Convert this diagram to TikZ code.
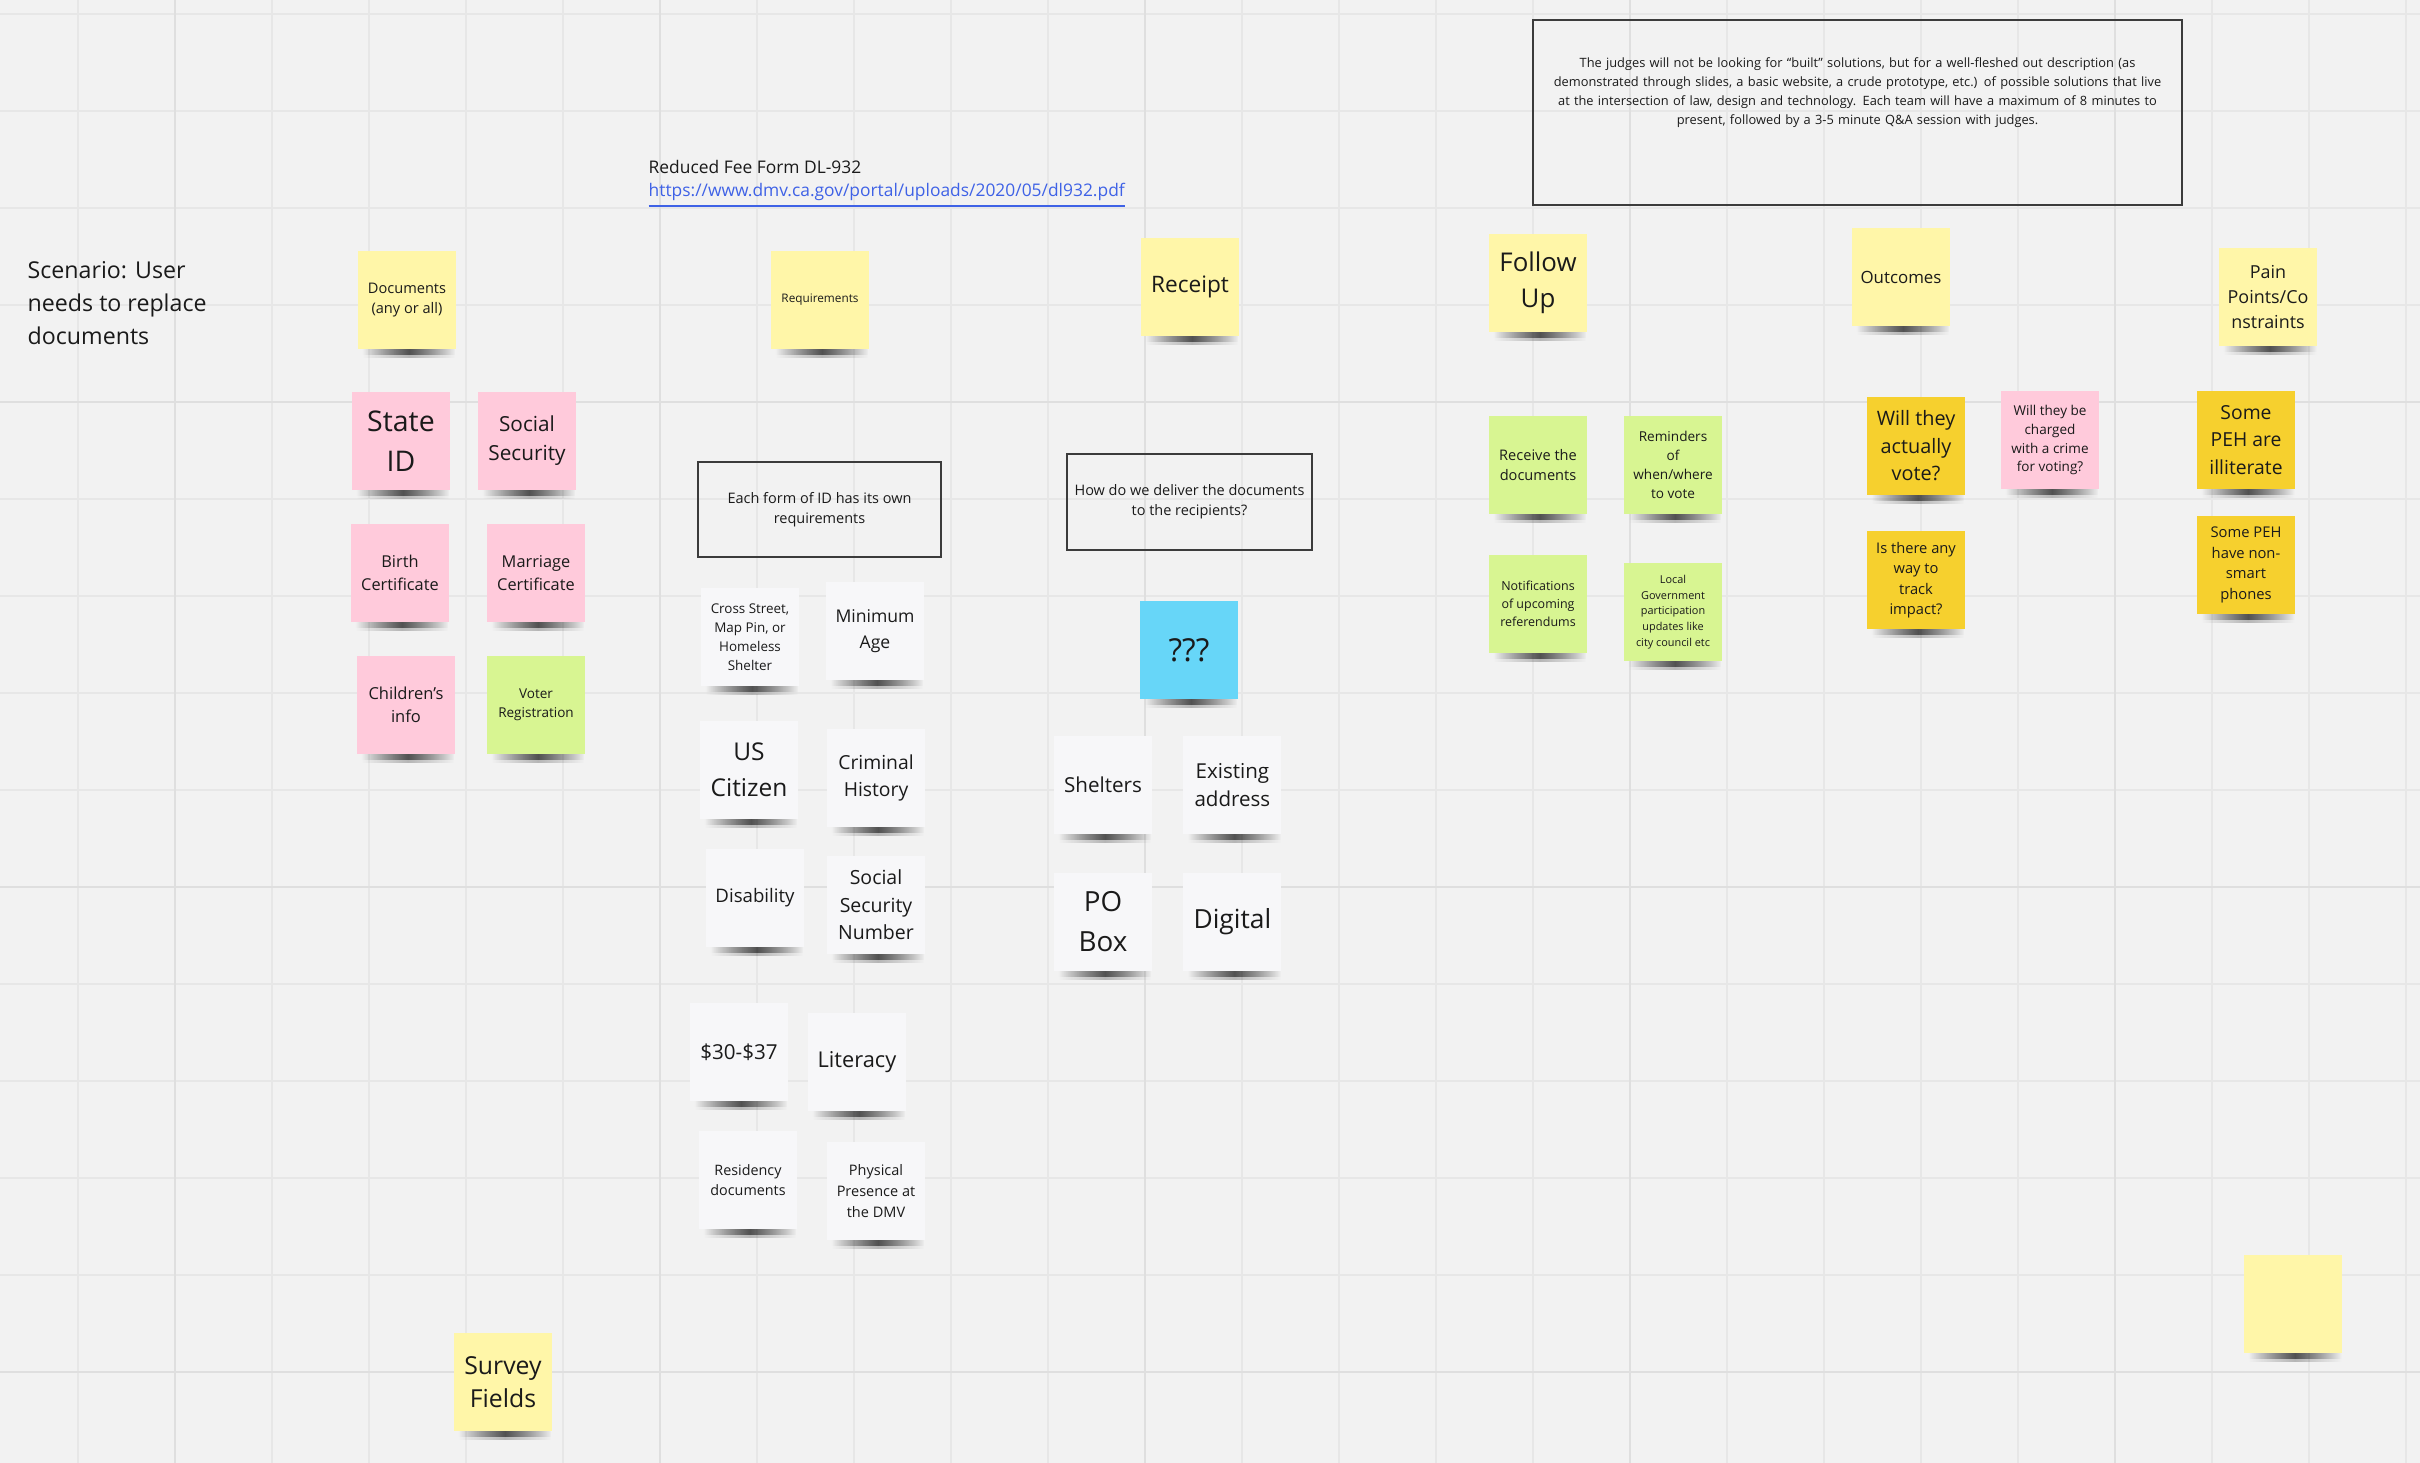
\documentclass[tikz,border=0pt]{standalone}
\usepackage{fontspec}
\setmainfont{Open Sans}
\usepackage{tikz}
\usetikzlibrary{positioning, shadows, fadings}
\definecolor{board}{HTML}{F2F2F2}
\definecolor{gridminor}{HTML}{E7E7E7}
\definecolor{gridmajor}{HTML}{DFDFDF}
\definecolor{ink}{HTML}{1A1A1A}
\definecolor{linkblue}{HTML}{3F62E6}
\definecolor{paleyellow}{HTML}{FFF6A8}
\definecolor{notepink}{HTML}{FFCADB}
\definecolor{notegreen}{HTML}{D8F592}
\definecolor{noteblue}{HTML}{67D6F8}
\definecolor{notewhite}{HTML}{F7F7F9}
\definecolor{notegold}{HTML}{F6D02E}
\newcommand{\fsz}[2]{\fontsize{#1}{#2}\selectfont}
\tikzfading[name=shadowfade, left color=transparent!100, right color=transparent!100, middle color=transparent!0]
\tikzset{
  note/.style={rectangle, minimum width=9.8mm, minimum height=9.8mm, inner sep=0.4mm, align=center, text=ink,
    general shadow={shadow xshift=0.2mm, shadow yshift=-1.25mm, shadow scale=0.95, opacity=0.25, fill=black, path fading=shadowfade},
    general shadow={shadow xshift=0.2mm, shadow yshift=-0.85mm, shadow scale=0.95, opacity=0.55, fill=black, path fading=shadowfade}},
  yellownote/.style={note, fill=paleyellow},
  pinknote/.style={note, fill=notepink},
  greennote/.style={note, fill=notegreen},
  bluenote/.style={note, fill=noteblue},
  whitenote/.style={note, fill=notewhite},
  goldnote/.style={note, fill=notegold},
  framebox/.style={rectangle, draw=ink!85, line width=0.15mm, align=center, text=ink, inner sep=0.5mm},
  plaintext/.style={align=left, text=ink, inner sep=0pt, anchor=west},
  gridline/.style={draw=gridminor, line width=0.15mm},
  majorline/.style={draw=gridmajor, line width=0.2mm},
}

\begin{document}
\begin{tikzpicture}[x=0.1mm, y=-0.1mm]
  % board
  \fill[board] (0,0) rectangle (2420,1463);
  \useasboundingbox (0,0) rectangle (2420,1463);
  \foreach \gx in {78,175,...,2410} \draw[gridline] (\gx,0) -- (\gx,1463);
  \foreach \gy in {14,111,...,1463} \draw[gridline] (0,\gy) -- (2420,\gy);
  \foreach \gx in {175,660,...,2410} \draw[majorline] (\gx,0) -- (\gx,1463);
  \foreach \gy in {402,887,1372} \draw[majorline] (0,\gy) -- (2420,\gy);

  % documents
  \node[plaintext, font=\fsz{6.6}{9.3}] (scenario) at (27,303) {Scenario: User\\needs to replace\\documents};
  \node[yellownote, font=\fsz{4.15}{5.85}] (docs) at (407,300) {Documents\\(any or all)};
  \node[pinknote, font=\fsz{8.1}{11.25}] (stateid) at (401,441) {State\\ID};
  \node[pinknote, font=\fsz{5.9}{8.3}] (socsec) at (527,441) {Social\\Security};
  \node[pinknote, font=\fsz{4.65}{6.5}] (birth) at (400,573) {Birth\\Certificate};
  \node[pinknote, font=\fsz{4.65}{6.5}] (marriage) at (536,573) {Marriage\\Certificate};
  \node[pinknote, font=\fsz{4.7}{6.5}] (children) at (406,705) {Children's\\info};
  \node[greennote, font=\fsz{3.85}{5.4}] (voter) at (536,705) {Voter\\Registration};
  \node[yellownote, font=\fsz{7.05}{9.2}] (survey) at (503,1382) {Survey\\Fields};

  % requirements
  \node[plaintext, font=\fsz{4.95}{6.8}] (dlform) at (648,184) {Reduced Fee Form DL-932\\\textcolor{linkblue}{\underline{https://www.dmv.ca.gov/portal/uploads/2020/05/dl932.pdf}}};
  \node[yellownote, font=\fsz{3.35}{4.7}] (reqs) at (820,300) {Requirements};
  \node[framebox, minimum width=24.3mm, minimum height=9.5mm, font=\fsz{4.12}{5.8}] (eachform) at (819.5,509.5) {Each form of ID has its own\\requirements};
  \node[whitenote, font=\fsz{3.82}{5.4}] (cross) at (750,637) {Cross Street,\\Map Pin, or\\Homeless\\Shelter};
  \node[whitenote, font=\fsz{5}{7.4}] (minage) at (875,631) {Minimum\\Age};
  \node[whitenote, font=\fsz{6.97}{10.2}] (uscitizen) at (749,770) {US\\Citizen};
  \node[whitenote, font=\fsz{5.5}{7.9}] (criminal) at (876,778) {Criminal\\History};
  \node[whitenote, font=\fsz{5.3}{7.5}] (disability) at (755,898) {Disability};
  \node[whitenote, font=\fsz{5.55}{7.8}] (ssn) at (876,905) {Social\\Security\\Number};
  \node[whitenote, font=\fsz{5.86}{8}] (fee) at (739,1052) {\$30-\$37};
  \node[whitenote, font=\fsz{6.2}{8.5}] (literacy) at (857,1062) {Literacy};
  \node[whitenote, font=\fsz{4.08}{5.7}] (residency) at (748,1180) {Residency\\documents};
  \node[whitenote, font=\fsz{4.13}{5.85}] (presence) at (876,1191) {Physical\\Presence at\\the DMV};

  % receipt
  \node[yellownote, font=\fsz{6.45}{9}] (receipt) at (1190,287) {Receipt};
  \node[framebox, minimum width=24.5mm, minimum height=9.6mm, font=\fsz{4.12}{5.8}] (deliver) at (1189.5,502) {How do we deliver the documents\\to the recipients?};
  \node[bluenote, font=\fsz{9}{12}] (unknown) at (1189,650) {???};
  \node[whitenote, font=\fsz{5.87}{8.1}] (shelters) at (1103,785) {Shelters};
  \node[whitenote, font=\fsz{5.85}{8.1}, right=3mm of shelters] (existing) {Existing\\address};
  \node[whitenote, font=\fsz{7.9}{11.4}] (pobox) at (1103,922) {PO\\Box};
  \node[whitenote, font=\fsz{7.5}{10}, right=3mm of pobox] (digital) {Digital};

  % follow up
  \node[framebox, minimum width=64.9mm, minimum height=18.5mm, text width=63mm, text depth=10mm, font=\fsz{3.65}{5.4}] (judges) at (1857.5,112.5) {The judges will not be looking for “built” solutions, but for a well-fleshed out description (as\\demonstrated through slides, a basic website, a crude prototype, etc.) of possible solutions that live\\at the intersection of law, design and technology. Each team will have a maximum of 8 minutes to\\present, followed by a 3-5 minute Q\&A session with judges.};
  \node[yellownote, font=\fsz{7.35}{10.4}] (followup) at (1538,283) {Follow\\Up};
  \node[greennote, font=\fsz{4.15}{5.7}] (receive) at (1538,465) {Receive the\\documents};
  \node[greennote, font=\fsz{3.87}{5.4}] (reminders) at (1673,465) {Reminders\\of\\when/where\\to vote};
  \node[greennote, font=\fsz{3.55}{5.07}] (notify) at (1538,604) {Notifications\\of upcoming\\referendums};
  \node[greennote, font=\fsz{3.1}{4.46}] (localgov) at (1673,612) {Local\\Government\\participation\\updates like\\city council etc};

  % outcomes
  \node[yellownote, font=\fsz{4.8}{6.7}] (outcomes) at (1901,277) {Outcomes};
  \node[goldnote, font=\fsz{5.65}{7.8}] (willvote) at (1916,446) {Will they\\actually\\vote?};
  \node[pinknote, font=\fsz{3.85}{5.4}] (charged) at (2050,440) {Will they be\\charged\\with a crime\\for voting?};
  \node[goldnote, font=\fsz{4.18}{5.8}] (track) at (1916,580) {Is there any\\way to\\track\\impact?};

  % pain points
  \node[yellownote, font=\fsz{5.1}{7.07}] (pain) at (2268,297) {Pain\\Points/Co\\nstraints};
  \node[goldnote, font=\fsz{5.5}{7.8}] (illiterate) at (2246,440) {Some\\PEH are\\illiterate};
  \node[goldnote, font=\fsz{4.2}{5.85}] (nonsmart) at (2246,565) {Some PEH\\have non-\\smart\\phones};
  \node[yellownote] (blank) at (2293,1304) {};
\end{tikzpicture}
\end{document}
